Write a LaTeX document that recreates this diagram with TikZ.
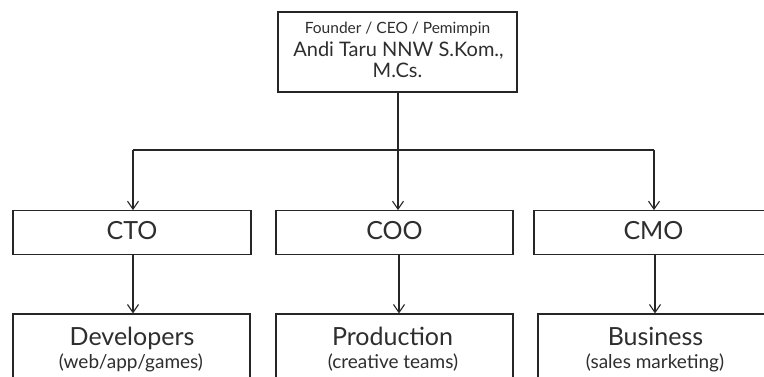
\documentclass[tikz,border=0pt]{standalone}
\usepackage{fontspec}
\setmainfont{Lato}
\usetikzlibrary{arrows.meta}
\definecolor{ink}{HTML}{2E2E2E}
\definecolor{linec}{HTML}{262626}
\begin{document}
\begin{tikzpicture}[x=1pt,y=-1pt,
  box/.style={draw=linec, line width=1.1pt, rectangle, inner sep=0pt, fill=white},
  conn/.style={draw=linec, line width=1.1pt, -{Straight Barb[length=8pt,width=11pt,line width=1.1pt]}},
  lbl/.style={text=ink, anchor=base, inner sep=0pt},
  big/.style={lbl, font=\fontsize{25}{28}\selectfont},
  mid/.style={lbl, font=\fontsize{20}{24}\selectfont},
  sml/.style={lbl, font=\fontsize{19}{22}\selectfont},
  tiny/.style={lbl, font=\fontsize{15.5}{18}\selectfont}]
\useasboundingbox (0,0) rectangle (764,376);
\fill[white] (0,0) rectangle (764,376);
\clip (0,0) rectangle (764,376);

% boxes
\node[box, minimum width=239pt, minimum height=80pt] (ceo) at (397.5,52) {};
\node[box, minimum width=238pt, minimum height=43.5pt] (cto) at (132,232.4) {};
\node[box, minimum width=237pt, minimum height=43.5pt] (coo) at (394.5,232.4) {};
\node[box, minimum width=240pt, minimum height=43.5pt] (cmo) at (654,232.4) {};
\node[box, minimum width=237pt, minimum height=106pt] (dev) at (131.5,367) {};
\node[box, minimum width=237pt, minimum height=106pt] (prod) at (394.5,367) {};
\node[box, minimum width=232pt, minimum height=106pt] (bus) at (654,367) {};

% labels
\node[tiny] (ceoa) at (397.5,33) {Founder / CEO / Pemimpin};
\node[mid] (ceob) at (398.5,56) {Andi Taru NNW S.Kom.,};
\node[mid] (ceoc) at (397.5,77) {M.Cs.};
\node[big] (ctol) at (132,239) {CTO};
\node[big] (cool) at (394.5,239) {COO};
\node[big] (cmol) at (653.5,239) {CMO};
\node[big] (devl) at (132,345) {Developers};
\node[sml] (devs) at (131,368) {(web/app/games)};
\node[big] (prodl) at (392.5,345) {Production};
\node[sml] (prods) at (393,368) {(creative teams)};
\node[big] (busl) at (655.5,345) {Business};
\node[sml] (buss) at (655,368) {(sales marketing)};

% connectors
\coordinate (j) at (398,150);
\coordinate (jl) at (133,150);
\coordinate (jr) at (654,150);
\draw[draw=linec, line width=1.1pt] (jl) -- (jr);
\draw[conn] (ceo.south -| j) -- (j |- coo.north);
\draw[conn] (jl) -- (jl |- cto.north);
\draw[conn] (jr) -- (jr |- cmo.north);
\draw[conn] (cto.south -| 133,0) -- (133,0 |- dev.north);
\draw[conn] (coo.south -| 399,0) -- (399,0 |- prod.north);
\draw[conn] (cmo.south -| 655,0) -- (655,0 |- bus.north);
\end{tikzpicture}
\end{document}
